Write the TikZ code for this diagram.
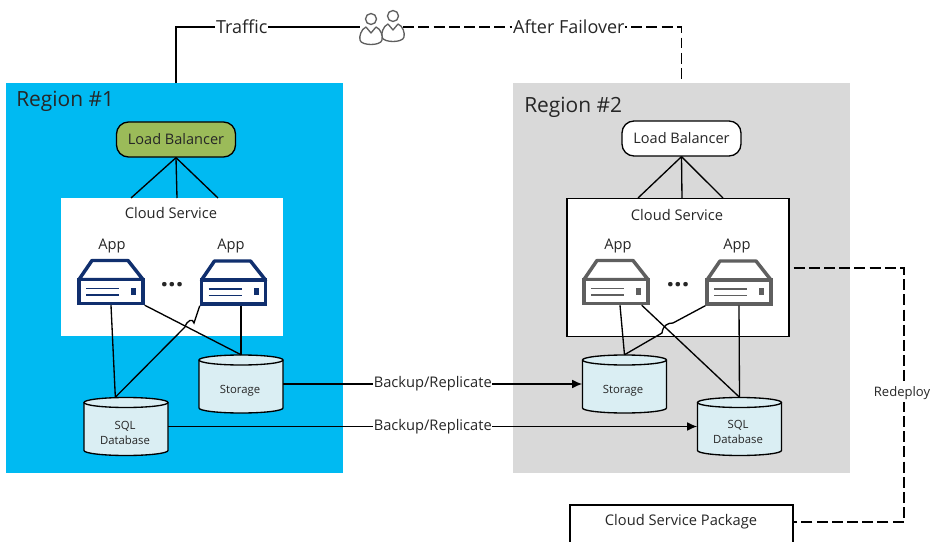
\documentclass[tikz,border=0pt]{standalone}
\usepackage{fontspec}
\setmainfont{Open Sans}
\usetikzlibrary{arrows,arrows.meta,shapes}
\definecolor{regionblue}{RGB}{0,186,242}
\definecolor{regiongray}{RGB}{217,217,217}
\definecolor{lbgreen}{RGB}{155,187,89}
\definecolor{dbfill}{RGB}{218,238,243}
\definecolor{navy}{RGB}{16,47,110}
\definecolor{srvgray}{RGB}{95,95,95}
\definecolor{inkgray}{RGB}{38,38,38}
\tikzstyle{region}=[rectangle,minimum width=337*0.75pt,minimum height=390*0.75pt,inner sep=0pt]
\tikzstyle{regionname}=[font=\fontsize{15.7}{18}\selectfont,text=inkgray,anchor=west,inner sep=0pt]
\tikzstyle{balancer}=[rectangle,rounded corners=9pt,draw=black,line width=1pt,minimum width=119*0.75pt,minimum height=35*0.75pt,inner sep=0pt,font=\fontsize{10.9}{12}\selectfont,text=inkgray]
\tikzstyle{cloud}=[rectangle,fill=white,minimum width=222*0.75pt,minimum height=138*0.75pt,inner sep=0pt]
\tikzstyle{caption}=[font=\fontsize{11}{13}\selectfont,text=inkgray,inner sep=0pt]
\tikzstyle{database}=[draw=black,fill=dbfill,line width=1pt,line join=round]
\tikzstyle{dbbox}=[rectangle,minimum width=84*0.75pt,minimum height=58*0.75pt,inner sep=0pt]
\tikzstyle{dbname}=[font=\fontsize{8.5}{11}\selectfont,text=inkgray,align=center,inner sep=0pt]
\tikzstyle{srvbody}=[rectangle,draw,fill=white,line width=2.6pt,minimum width=64*0.75pt,minimum height=24*0.75pt,inner sep=0pt]
\tikzstyle{wire}=[draw,line width=1pt]
\tikzstyle{copyline}=[draw,line width=1pt,-{Latex[length=7.5pt,width=6.5pt]}]
\tikzstyle{dashline}=[draw,line width=1pt,dash pattern=on 8.2pt off 3.2pt]
\tikzstyle{linelabel}=[caption,fill=white,inner xsep=0.5pt,inner ysep=2pt]
\tikzstyle{biglabel}=[linelabel,font=\fontsize{13.5}{15}\selectfont]
\tikzstyle{person}=[draw=srvgray,line width=1pt,fill=white,line join=round]
\begin{document}
\begin{tikzpicture}[x=0.75pt,y=-0.75pt]
\useasboundingbox (0,0) rectangle (932,542);

% regions
\node[region,fill=regionblue] (region1) at (174.5,278) {};
\node[region,fill=regiongray] (region2) at (681.5,278) {};
\node[regionname] (name1) at (16,101) {Region \#1};
\node[regionname] (name2) at (524,107) {Region \#2};

% cloud service boxes and balancers
\node[cloud] (cloud1) at (171.5,267) {};
\node[cloud,draw=black,line width=1pt] (cloud2) at (678,267.5) {};
\node[caption] (cs1) at (171,213) {Cloud Service};
\node[caption] (cs2) at (677,215) {Cloud Service};
\node[balancer,fill=lbgreen] (lb1) at (176,139.5) {Load Balancer};
\node[balancer,fill=white] (lb2) at (681.5,138.5) {Load Balancer};

% balancer fan out
\foreach \source/ \x in {lb1/131, lb1/177, lb1/218, lb2/638, lb2/682, lb2/723}
    \path[wire] (\source.south) -- (\x,198);

% app servers
\foreach \x/ \y/ \name/ \col/ \lx in {111/291.5/app1/navy/112, 233.5/292/app2/navy/231, 616/291.5/app3/srvgray/618, 739/292/app4/srvgray/737} {
    \path[draw=\col,fill=white,line width=2.6pt,line join=round] (\x-32,\y-12) -- (\x-19,\y-31) -- (\x+17,\y-31) -- (\x+32,\y-12) -- cycle;
    \node[srvbody,draw=\col] (\name) at (\x,\y) {};
    \path[draw=\col,line width=1pt] (\x-25,\y-3) -- (\x+8,\y-3) (\x-25,\y+3.5) -- (\x+8,\y+3.5);
    \path[fill=\col] (\x+20,\y-4) rectangle (\x+25,\y+3);
    \node[caption] (\name text) at (\lx,246) {App};
}
\foreach \x/ \name in {172/dots1, 678/dots2}
    \node[caption,anchor=base,font=\bfseries\fontsize{20}{20}\selectfont] (\name) at (\x,286) {...};

% databases
\foreach \x/ \y/ \name in {241/384/store1, 624.5/384/store2, 126/426.5/sql1, 739.5/426.5/sql2} {
    \node[dbbox] (\name) at (\x,\y) {};
    \path[database] (\x-42,\y-24) -- (\x-42,\y+24) arc (180:0:42 and 5) -- (\x+42,\y-24) -- cycle;
    \path[database] (\x,\y-24) ellipse (42 and 5);
}
\node[dbname] (store1text) at (240,391) {Storage};
\node[dbname] (store2text) at (623,391) {Storage};
\node[dbname] (sql1text) at (125,433) {SQL\\Database};
\node[dbname] (sql2text) at (738,432) {SQL\\Database};

% wires, the crossed ones hop
\coordinate (hop1a) at (194,323);
\coordinate (hop1b) at (185,327);
\coordinate (hop2a) at (673,323);
\coordinate (hop2b) at (662,333);
\path[wire] (app1.south) -- ([xshift=-8pt]sql1.north);
\path[wire] (store1.north |- app2.south) -- (store1.north);
\path[wire] (app1.south east) -- (store1.north);
\path[wire] (app2.south west) -- (hop1a) .. controls (193,318) and (187,320) .. (hop1b) -- ([xshift=-8pt]sql1.north);
\path[wire] ([xshift=3pt]app3.south) -- (store2.north);
\path[wire] (app4.south) -- (sql2.north);
\path[wire] ([xshift=-6pt]app3.south east) -- (sql2.north);
\path[wire] (app4.south west) -- (hop2a) .. controls (668,323) and (663,325) .. (hop2b) -- (store2.north);

% users
\node[inner sep=0pt,minimum width=43*0.75pt,minimum height=30*0.75pt] (users) at (381.5,27) {};
\foreach \x/ \y in {393/16, 371/19} {
    \draw[person] (\x-5,\y+8) .. controls (\x-10,\y+10) and (\x-12,\y+18) .. (\x-11,\y+21) .. controls (\x-10,\y+27) and (\x+10,\y+27) .. (\x+11,\y+21) .. controls (\x+12,\y+17) and (\x+10,\y+10) .. (\x+5,\y+8) -- (\x,\y+14) -- cycle;
    \draw[person] (\x,\y) circle (5.5);
}

% traffic
\path[wire] (users.west) -- node[biglabel,pos=0.642] (traffic) {Traffic} (users.west -| lb1.south) -- (lb1.south |- region1.north);
\path[dashline] (users.east) -- node[biglabel,pos=0.595] (failover) {After Failover} (users.east -| lb2.north) -- (lb2.north |- region2.north);

% backups
\path[copyline] (store1.east) -- node[linelabel,pos=0.5] (copy1) {Backup/Replicate} (store2.west);
\path[copyline] (sql1.east) -- node[linelabel,pos=0.5] (copy2) {Backup/Replicate} (sql2.west);

% redeploy
\node[rectangle,draw=black,fill=white,line width=1pt,minimum width=223*0.75pt,minimum height=44*0.75pt,inner sep=0pt] (package) at (681.5,527) {};
\node[caption] (packagetext) at (681,522) {Cloud Service Package};
\coordinate (turn1) at (904,268);
\coordinate (turn2) at (904,522);
\path[dashline] ([xshift=3pt]cloud2.east |- turn1) -- (turn1) -- node[linelabel,pos=0.492,xshift=-1.5pt,font=\fontsize{9.8}{12}\selectfont] (redeploy) {Redeploy} (turn2) -- (turn2 -| package.east);
\end{tikzpicture}
\end{document}
